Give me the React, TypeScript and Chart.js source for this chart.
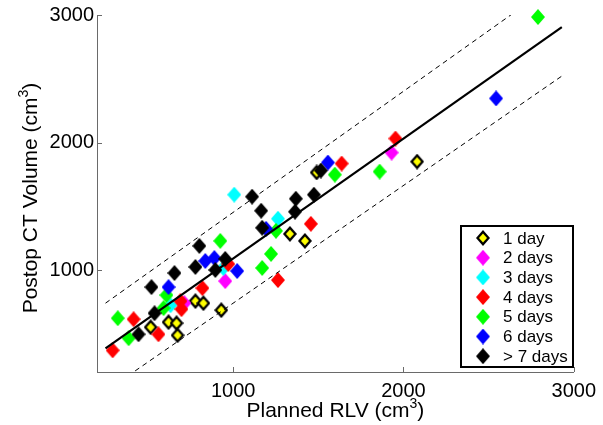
import React, { useEffect, useRef } from "react";
import { Chart, registerables } from "chart.js";

Chart.register(...registerables);

// ---- data ----
const xTicks = [1000, 2000, 3000];
const yTicks = [1000, 2000, 3000];

const seriesLabels = ["1 day", "2 days", "3 days", "4 days", "5 days", "6 days", "> 7 days"];
const seriesColors = ["#ffff00", "#ff00ff", "#00ffff", "#ff0000", "#00ff00", "#0000ff", "#000000"];

const oneDayX = [2080, 1490, 1333, 1421, 778, 825, 930, 515, 620, 667, 673];
const oneDayY = [1850, 1765, 1283, 1228, 756, 740, 685, 551, 591, 583, 488];
const twoDaysX = [1930, 953, 713];
const twoDaysY = [1921, 913, 740];
const threeDaysX = [1006, 1263, 942, 632];
const threeDaysY = [1591, 1402, 1016, 724];
const fourDaysX = [1953, 1637, 1456, 1263, 819, 690, 696, 415, 561, 292, 971];
const fourDaysY = [2031, 1835, 1362, 921, 858, 756, 693, 614, 496, 370, 1047];
const fiveDaysX = [2790, 1860, 1597, 924, 1251, 1222, 1170, 608, 591, 322, 386];
const fiveDaysY = [2984, 1772, 1748, 1228, 1307, 1126, 1016, 803, 701, 622, 465];
const sixDaysX = [2544, 1556, 620, 836, 889, 1023, 1193];
const sixDaysY = [2346, 1843, 866, 1071, 1094, 992, 1323];
const sevenPlusX = [1515, 1474, 1368, 1363, 1111, 1164, 1170, 801, 953, 778, 895, 655, 520, 538, 444];
const sevenPlusY = [1780, 1591, 1559, 1457, 1575, 1465, 1331, 1189, 1087, 1024, 1000, 976, 866, 661, 496];

const fitX = [250, 2930];
const fitY = [385, 2905];
const upperY = [740, 3285];
const lowerY = [48, 2521];

const seriesX = [oneDayX, twoDaysX, threeDaysX, fourDaysX, fiveDaysX, sixDaysX, sevenPlusX];
const seriesY = [oneDayY, twoDaysY, threeDaysY, fourDaysY, fiveDaysY, sixDaysY, sevenPlusY];

// ---- style ----
const FONT = "'Liberation Sans', Arial, Helvetica, sans-serif";
const AXIS = "#6a6a6a";

function makeDiamond(fill: string, outlined: boolean): HTMLCanvasElement {
  const w = 14, h = 16;
  const c = document.createElement("canvas");
  c.width = w;
  c.height = h;
  const g = c.getContext("2d")!;
  const dia = (ix: number, iy: number, color: string) => {
    g.beginPath();
    g.moveTo(w / 2, iy);
    g.lineTo(w - ix, h / 2);
    g.lineTo(w / 2, h - iy);
    g.lineTo(ix, h / 2);
    g.closePath();
    g.fillStyle = color;
    g.fill();
  };
  if (outlined) {
    dia(0, 0, "#000000");
    dia(3, 3.5, fill);
  } else {
    dia(0, 0, fill);
  }
  return c;
}

function toPoints(xs: number[], ys: number[]) {
  return xs.map((x, i) => ({ x, y: ys[i] }));
}

function drawSupText(
  ctx: CanvasRenderingContext2D,
  pre: string,
  sup: string,
  post: string,
  cx: number,
  baseY: number,
  size: number
) {
  const supSize = Math.round(size * 0.68);
  ctx.font = `${size}px ${FONT}`;
  const w1 = ctx.measureText(pre).width;
  const w3 = ctx.measureText(post).width;
  ctx.font = `${supSize}px ${FONT}`;
  const w2 = ctx.measureText(sup).width;
  let x = cx - (w1 + w2 + w3) / 2;
  ctx.textAlign = "left";
  ctx.textBaseline = "alphabetic";
  ctx.font = `${size}px ${FONT}`;
  ctx.fillText(pre, x, baseY);
  x += w1;
  ctx.font = `${supSize}px ${FONT}`;
  ctx.fillText(sup, x, baseY - size * 0.45);
  x += w2;
  ctx.font = `${size}px ${FONT}`;
  ctx.fillText(post, x, baseY);
}

export default function App() {
  const ref = useRef<HTMLCanvasElement | null>(null);

  useEffect(() => {
    if (!ref.current) return;
    const markers = seriesColors.map((c, i) => makeDiamond(c, i === 0));

    const decor = {
      id: "decor",
      afterDraw(chart: any) {
        const ctx: CanvasRenderingContext2D = chart.ctx;
        const xs = chart.scales.x;
        const ys = chart.scales.y;
        const ca = chart.chartArea;
        ctx.save();
        // inward tick marks
        ctx.strokeStyle = AXIS;
        ctx.lineWidth = 1;
        xTicks.forEach((v) => {
          const px = Math.round(xs.getPixelForValue(v)) + 0.5;
          ctx.beginPath();
          ctx.moveTo(px, ca.bottom);
          ctx.lineTo(px, ca.bottom - 5);
          ctx.stroke();
        });
        yTicks.forEach((v) => {
          const py = Math.round(ys.getPixelForValue(v)) + 0.5;
          ctx.beginPath();
          ctx.moveTo(ca.left, py);
          ctx.lineTo(ca.left + 5, py);
          ctx.stroke();
        });
        // axis titles
        ctx.fillStyle = "#000";
        drawSupText(ctx, "Planned RLV (cm", "3", ")", (ca.left + ca.right) / 2, 417, 21);
        ctx.save();
        ctx.translate(37, 198);
        ctx.rotate(-Math.PI / 2);
        drawSupText(ctx, "Postop CT Volume (cm", "3", ")", 0, 0, 21);
        ctx.restore();
        // legend
        const lx = 461, ly = 226, lw = 112, lh = 141;
        ctx.fillStyle = "#fff";
        ctx.fillRect(lx, ly, lw, lh);
        ctx.strokeStyle = "#000";
        ctx.lineWidth = 2;
        ctx.strokeRect(lx, ly, lw, lh);
        ctx.font = `17px ${FONT}`;
        ctx.textAlign = "left";
        ctx.textBaseline = "middle";
        ctx.fillStyle = "#000";
        seriesLabels.forEach((lab, i) => {
          const ry = 238 + i * 19.7;
          const m = markers[i];
          ctx.drawImage(m, 483 - m.width / 2, ry - m.height / 2);
          ctx.fillText(lab, 503, ry + 1);
        });
        ctx.restore();
      },
    };

    const scatterSets = seriesLabels.map((lab, i) => ({
      label: lab,
      data: toPoints(seriesX[i], seriesY[i]),
      pointStyle: markers[i] as any,
      pointRadius: 7,
      pointHoverRadius: 7,
      showLine: false,
      clip: false,
      order: 10 - i,
    }));

    const lineSets = [
      { label: "fit", data: toPoints(fitX, fitY), borderColor: "#000", borderWidth: 2.2, borderDash: [] as number[], order: 1 },
      { label: "upper", data: toPoints(fitX, upperY), borderColor: "#000", borderWidth: 1, borderDash: [5, 4], order: 2 },
      { label: "lower", data: toPoints(fitX, lowerY), borderColor: "#000", borderWidth: 1, borderDash: [5, 4], order: 2 },
    ].map((d) => ({ ...d, showLine: true, pointRadius: 0, fill: false }));

    const fmt = (v: any) => String(v);

    const chart = new Chart(ref.current, {
      type: "scatter",
      data: { datasets: [...lineSets, ...scatterSets] as any },
      options: {
        responsive: false,
        animation: false,
        layout: { padding: { top: 15, right: 26, left: 0, bottom: 0 } },
        plugins: { legend: { display: false }, tooltip: { enabled: false } },
        scales: {
          x: {
            type: "linear",
            min: 200,
            max: 3000,
            afterBuildTicks: (s: any) => {
              s.ticks = xTicks.map((v) => ({ value: v }));
            },
            afterFit: (s: any) => {
              s.height = 53;
            },
            grid: { display: false, drawTicks: false },
            border: { display: true, color: AXIS, width: 1 },
            ticks: {
              color: "#000",
              font: { family: FONT, size: 20 },
              padding: 7,
              maxRotation: 0,
              autoSkip: false,
              callback: fmt,
            },
          },
          y: {
            type: "linear",
            min: 200,
            max: 3000,
            afterBuildTicks: (s: any) => {
              s.ticks = yTicks.map((v) => ({ value: v }));
            },
            afterFit: (s: any) => {
              s.width = 97;
            },
            grid: { display: false, drawTicks: false },
            border: { display: true, color: AXIS, width: 1 },
            ticks: {
              color: "#000",
              font: { family: FONT, size: 20 },
              padding: 3,
              autoSkip: false,
              callback: fmt,
            },
          },
        },
      } as any,
      plugins: [decor],
    });
    return () => chart.destroy();
  }, []);

  return (
    <div style={{ position: "absolute", left: 0, top: 0, width: 603, height: 425, background: "#fff" }}>
      <canvas ref={ref} width={603} height={425} style={{ display: "block" }} />
    </div>
  );
}
